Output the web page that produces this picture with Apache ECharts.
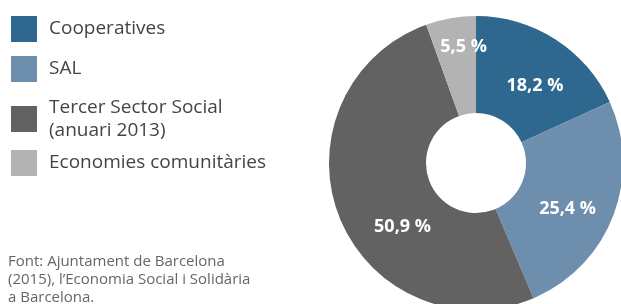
<!DOCTYPE html>
<html>
<head>
<meta charset="utf-8">
<script src="https://cdn.jsdelivr.net/npm/echarts@6/dist/echarts.min.js"></script>
<style>
html,body{margin:0;padding:0;background:#fff}
#chart{width:621px;height:304px}
</style>
</head>
<body>
<div id="chart"></div>
<script>
// dades
var categories=["Cooperatives","SAL","Tercer Sector Social\n(anuari 2013)","Economies comunitàries"]
var values=[18.2,25.4,50.9,5.5]
var colors=["#2e688e","#6e8eae","#626262","#b3b3b3"]
var sourceLines=["Font: Ajuntament de Barcelona","(2015), l’Economia Social i Solidària","a Barcelona."]

// desplaçament de les etiquetes respecte al punt per defecte
var labelShift=[[4,8],[-3,9],[21,27],[5,-16]]

var FONT="'Open Sans', Roboto, sans-serif"
var chart=echarts.init(document.getElementById('chart'))

var pieData=[]
for(var i=0;i<values.length;i++){
    pieData.push({name:categories[i],value:values[i],itemStyle:{color:colors[i]}})
}

// una llegenda per element, així cada quadre va a la seva alçada
var legendTops=[16,56,96,150]
var legends=[]
for(var i=0;i<categories.length;i++){
    legends.push({
        left:11,
        top:legendTops[i],
        padding:0,
        orient:'vertical',
        icon:'rect',
        itemWidth:26,
        itemHeight:26,
        itemGap:0,
        selectedMode:false,
        data:[categories[i]],
        textStyle:{color:'#444',fontSize:19,fontFamily:FONT,lineHeight:23,padding:[0,0,0,7]}
    })
}

var option={
    animation:false,
    legend:legends,
    graphic:[{
        type:'text',
        left:8,
        top:253,
        style:{
            text:sourceLines.join("\n"),
            fill:'#666',
            font:"15px "+FONT,
            lineHeight:18
        }
    }],
    series:[{
        type:'pie',
        center:[476,163],
        radius:[50,147],
        startAngle:90,
        clockwise:true,
        avoidLabelOverlap:false,
        data:pieData,
        label:{
            show:true,
            position:'inside',
            color:'#fff',
            fontWeight:'bold',
            fontSize:18,
            fontFamily:FONT,
            formatter:function(p){return String(p.value).replace('.',',')+' %'}
        },
        labelLine:{show:false},
        labelLayout:function(p){
            var s=labelShift[p.dataIndex]
            return {dx:s[0],dy:s[1]}
        },
        emphasis:{disabled:true}
    }]
}
chart.setOption(option)
</script>
</body>
</html>
